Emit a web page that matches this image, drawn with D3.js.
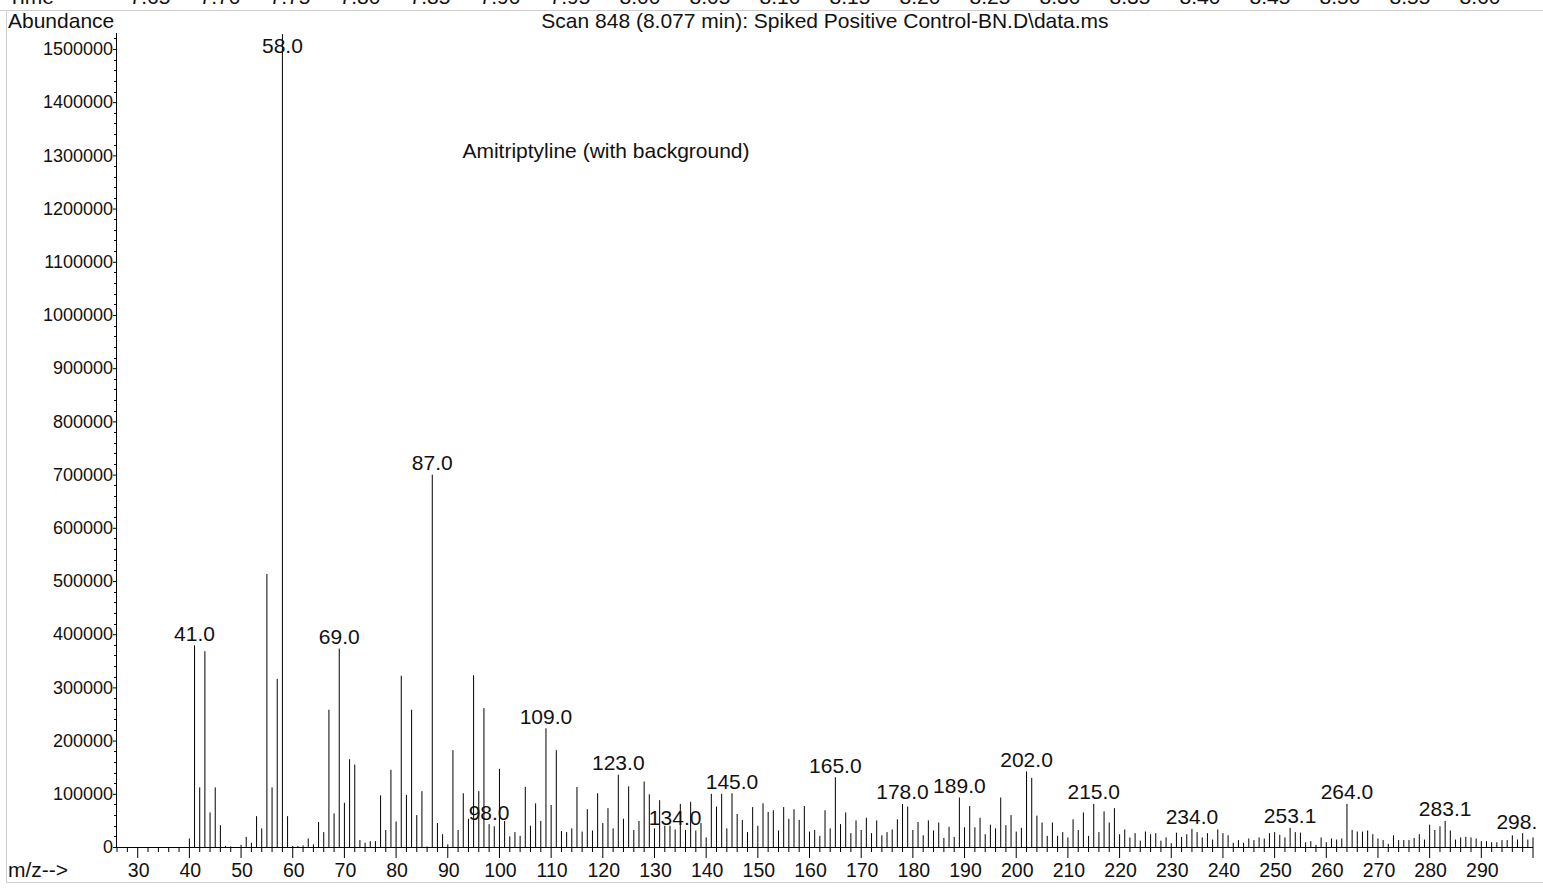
<!DOCTYPE html>
<html>
<head>
<meta charset="utf-8">
<script src="https://cdn.jsdelivr.net/npm/d3@7/dist/d3.min.js"></script>
<style>
  html, body { margin: 0; padding: 0; background: #fff; }
  svg { display: block; font-family: "Liberation Sans", Arial, sans-serif; }
</style>
</head>
<body>
<svg id="chart" width="1543" height="888"></svg>
<script>
// ---------- data ----------
const mzValues = [
  40,41,42,43,44,45,46,47,48,49,50,51,52,53,54,55,56,57,58,59,
  60,61,62,63,64,65,66,67,68,69,70,71,72,73,74,75,76,77,78,79,
  80,81,82,83,84,85,86,87,88,89,90,91,92,93,94,95,96,97,98,99,
  100,101,102,103,104,105,106,107,108,109,110,111,112,113,114,115,116,117,118,119,
  120,121,122,123,124,125,126,127,128,129,130,131,132,133,134,135,136,137,138,139,
  140,141,142,143,144,145,146,147,148,149,150,151,152,153,154,155,156,157,158,159,
  160,161,162,163,164,165,166,167,168,169,170,171,172,173,174,175,176,177,178,179,
  180,181,182,183,184,185,186,187,188,189,190,191,192,193,194,195,196,197,198,199,
  200,201,202,203,204,205,206,207,208,209,210,211,212,213,214,215,216,217,218,219,
  220,221,222,223,224,225,226,227,228,229,230,231,232,233,234,235,236,237,238,239,
  240,241,242,243,244,245,246,247,248,249,250,251,252,253,254,255,256,257,258,259,
  260,261,262,263,264,265,266,267,268,269,270,271,272,273,274,275,276,277,278,279,
  280,281,282,283,284,285,286,287,288,289,290,291,292,293,294,295,296,297,298,299,
  300
];
const abundance = [
  16000,379000,112000,368000,65000,112000,41000,2000,1000,0,4000,19000,8000,58000,35000,513000,112000,316000,1528000,58000,
  2000,2000,3000,16000,5000,47000,28000,258000,63000,373000,83000,165000,155000,13000,8000,11000,11000,97000,32000,145000,
  48000,322000,98000,258000,60000,105000,1000,700000,45000,24000,5000,182000,32000,101000,53000,323000,105000,261000,43000,39000,
  147000,49000,20000,28000,21000,113000,40000,82000,49000,223000,79000,182000,30000,28000,35000,113000,29000,71000,31000,101000,
  45000,73000,35000,136000,53000,114000,32000,49000,123000,99000,35000,88000,40000,40000,33000,81000,32000,85000,31000,45000,
  18000,100000,76000,100000,35000,101000,62000,51000,28000,75000,40000,82000,66000,69000,31000,75000,53000,71000,51000,77000,
  29000,32000,21000,69000,35000,131000,43000,65000,26000,50000,32000,55000,26000,50000,22000,28000,33000,52000,81000,76000,
  32000,47000,22000,50000,31000,46000,17000,38000,19000,93000,37000,77000,37000,55000,24000,42000,35000,93000,41000,60000,
  29000,36000,142000,130000,59000,46000,21000,46000,21000,28000,18000,52000,32000,65000,21000,81000,28000,67000,46000,73000,
  24000,33000,18000,26000,12000,29000,24000,26000,12000,18000,7000,27000,19000,24000,34000,28000,18000,26000,14000,33000,
  26000,22000,8000,13000,8000,16000,13000,18000,16000,26000,28000,23000,18000,36000,28000,27000,9000,11000,4000,18000,
  9000,16000,14000,16000,81000,32000,29000,29000,31000,24000,16000,13000,6000,22000,13000,13000,13000,17000,24000,14000,
  42000,32000,39000,49000,31000,14000,18000,19000,18000,16000,11000,11000,9000,9000,13000,13000,22000,14000,26000,14000,
  18000
];
const peakLabelMz   = [41, 58, 69, 87, 98, 109, 123, 134, 145, 165, 178, 189, 202, 215, 234, 253, 264, 283, 298];
const peakLabelText = ["41.0","58.0","69.0","87.0","98.0","109.0","123.0","134.0","145.0","165.0","178.0","189.0","202.0","215.0","234.0","253.1","264.0","283.1","298.0"];
const yTickValues = [0,100000,200000,300000,400000,500000,600000,700000,800000,900000,1000000,1100000,1200000,1300000,1400000,1500000];
const xTickLabels = [30,40,50,60,70,80,90,100,110,120,130,140,150,160,170,180,190,200,210,220,230,240,250,260,270,280,290];
const timeLabels = ["7.65","7.70","7.75","7.80","7.85","7.90","7.95","8.00","8.05","8.10","8.15","8.20","8.25","8.30","8.35","8.40","8.45","8.50","8.55","8.60"];
const titleText = "Scan 848 (8.077 min): Spiked Positive Control-BN.D\\data.ms";
const annotationText = "Amitriptyline (with background)";

// ---------- layout ----------
const W = 1543, H = 888;
const plot = { left: 116, right: 1533, top: 33, bottom: 847 };

const svg = d3.select("#chart");
svg.append("rect").attr("width", W).attr("height", H).attr("fill", "#fff");

const x = d3.scaleLinear().domain([25.8, 300]).range([plot.left, plot.right]);
const y = d3.scaleLinear().domain([0, 1530000]).range([plot.bottom, plot.top]);
const tScale = d3.scaleLinear().domain([0, timeLabels.length - 1]).range([150, 1480]);

// frame (light gray)
const frame = svg.append("g").attr("stroke", "#cfcfcf").attr("stroke-width", 1).attr("fill", "none");
frame.append("line").attr("x1", 0).attr("x2", W).attr("y1", 10.5).attr("y2", 10.5);
frame.append("line").attr("x1", 6.5).attr("x2", 6.5).attr("y1", 10.5).attr("y2", 882.5);
frame.append("line").attr("x1", 6.5).attr("x2", W).attr("y1", 882.5).attr("y2", 882.5);

// time row (cut off at the top, as in the source)
svg.append("text").attr("x", 8).attr("y", 4).attr("font-size", 21).attr("fill", "#111").text("Time");
svg.append("g").selectAll("text").data(timeLabels).join("text")
  .attr("x", (d, i) => tScale(i)).attr("y", 4)
  .attr("text-anchor", "middle").attr("font-size", 21).attr("fill", "#111")
  .text(d => d);

// header texts
svg.append("text").attr("x", 8).attr("y", 27.5).attr("font-size", 21).attr("fill", "#111").text("Abundance");
svg.append("text").attr("x", 825).attr("y", 27.5).attr("text-anchor", "middle").attr("font-size", 21).attr("fill", "#111").text(titleText);
svg.append("text").attr("x", 606).attr("y", 157.5).attr("text-anchor", "middle").attr("font-size", 21).attr("fill", "#111").text(annotationText);
svg.append("text").attr("x", 8).attr("y", 877).attr("font-size", 21).attr("fill", "#111").text("m/z-->");

// y axis
const yAxis = d3.axisLeft(y).tickValues(yTickValues).tickSize(3).tickPadding(0).tickFormat(d3.format("d"));
const gy = svg.append("g").attr("transform", `translate(${plot.left},0)`).call(yAxis);
gy.select(".domain").remove();
gy.selectAll("text").attr("font-size", 18).attr("font-family", "Liberation Sans, Arial, sans-serif").attr("fill", "#111");
gy.selectAll("line").attr("stroke", "#000");
const yMinor = d3.range(0, 1530001, 20000).filter(v => v % 100000 !== 0);
svg.append("g").selectAll("line").data(yMinor).join("line")
  .attr("x1", plot.left - 2).attr("x2", plot.left)
  .attr("y1", d => Math.round(y(d)) + 0.5).attr("y2", d => Math.round(y(d)) + 0.5)
  .attr("stroke", "#000");
svg.append("line").attr("x1", plot.left + 0.5).attr("x2", plot.left + 0.5)
  .attr("y1", plot.top).attr("y2", plot.bottom).attr("stroke", "#000");

// x axis
const xMinor = d3.range(26, 301, 2).filter(v => v % 10 !== 0);
const xMajor = d3.range(30, 301, 10);
svg.append("g").selectAll("line").data(xMinor).join("line")
  .attr("x1", d => x(d)).attr("x2", d => x(d))
  .attr("y1", plot.bottom).attr("y2", plot.bottom + 5).attr("stroke", "#000");
svg.append("g").selectAll("line").data(xMajor).join("line")
  .attr("x1", d => x(d)).attr("x2", d => x(d))
  .attr("y1", plot.bottom).attr("y2", plot.bottom + 11).attr("stroke", "#000");
svg.append("g").selectAll("text").data(xTickLabels).join("text")
  .attr("x", d => x(d) + 1).attr("y", 877.3)
  .attr("text-anchor", "middle").attr("font-size", 19.5).attr("fill", "#111")
  .text(d => d);
svg.append("line").attr("x1", plot.left).attr("x2", plot.right)
  .attr("y1", plot.bottom + 0.5).attr("y2", plot.bottom + 0.5).attr("stroke", "#000");

// spectrum sticks
const spectrum = mzValues.map((m, i) => ({ mz: m, v: abundance[i] }));
svg.append("g").selectAll("line").data(spectrum.filter(d => d.v > 0)).join("line")
  .attr("x1", d => x(d.mz)).attr("x2", d => x(d.mz))
  .attr("y1", plot.bottom).attr("y2", d => y(d.v))
  .attr("stroke", "#000").attr("stroke-width", 1);

// peak labels (clipped just past the plot's right edge)
svg.append("clipPath").attr("id", "labelClip")
  .append("rect").attr("x", 0).attr("y", 0).attr("width", plot.right + 3).attr("height", H);
const lookup = new Map(spectrum.map(d => [d.mz, d.v]));
svg.append("g").attr("clip-path", "url(#labelClip)")
  .selectAll("text").data(peakLabelMz).join("text")
  .attr("x", d => x(d))
  .attr("y", d => Math.max(y(lookup.get(d)) - 4.5, 53))
  .attr("text-anchor", "middle").attr("font-size", 21).attr("fill", "#111")
  .text((d, i) => peakLabelText[i]);
</script>
</body>
</html>
